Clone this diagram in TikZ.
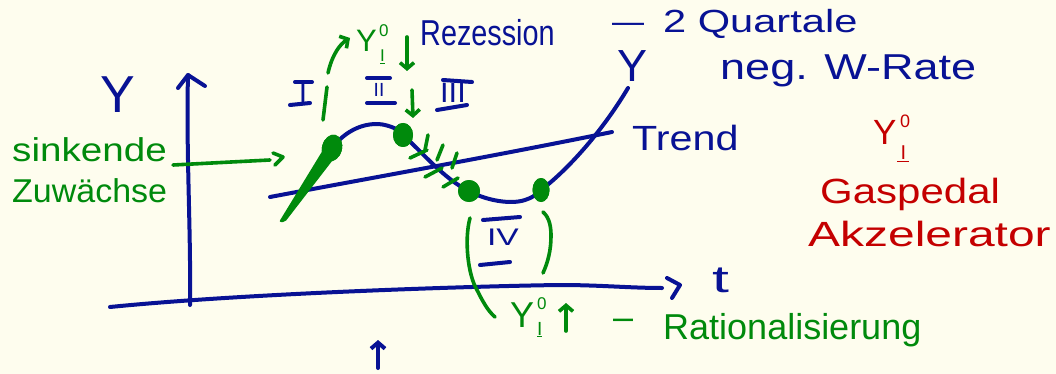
\documentclass[tikz,border=0pt]{standalone}
\usepackage{fontspec}
\usepackage{graphicx}
\setmainfont{Liberation Sans}
\usetikzlibrary{arrows.meta,shapes.geometric}
\definecolor{bg}{RGB}{254,253,238}
\definecolor{ink}{RGB}{8,18,148}
\definecolor{grn}{RGB}{0,138,12}
\definecolor{rd}{RGB}{196,0,0}
\newcommand\fsz[1]{\fontsize{#1}{#1}\selectfont}
\newcommand\hx[2]{\scalebox{#1}[1]{#2}}
\begin{document}
\begin{tikzpicture}[x=1pt,y=-1pt,line cap=round,line join=round,
  bl/.style={draw=ink,line width=4pt},
  gl/.style={draw=grn,line width=3.6pt},
  barb/.style={-{Straight Barb[length=6pt,width=14pt,line width=3.6pt]}},
  hand/.style={inner sep=0pt,anchor=base west},
  num/.style={inner sep=0pt,anchor=base,text=ink},
  gdot/.style={ellipse,fill=grn,inner sep=0pt}]
\fill[bg] (0,0) rectangle (1056,374);
\useasboundingbox (0,0) rectangle (1056,374);

% axes
\coordinate (ax0) at (190,305);
\coordinate (ay1) at (188,75);
\draw[bl] (ax0) .. controls (191,230) and (186,150) .. (ay1);
\draw[bl] (178,88) -- (ay1) -- (205,86);
\coordinate (hx0) at (110,307);
\coordinate (hx1) at (662,288);
\draw[bl] (hx0) .. controls (250,293) and (480,286) .. (560,285) .. controls (600,285) and (630,288) .. (hx1);
\draw[bl] (667,278) -- (680,285) -- (672,298);

\node[hand,text=ink] (ylab) at (100,113) {\fsz{52}Y};
\node[hand,text=ink] (tlab) at (712,292) {\fsz{38}\hx{1.6}{t}};

% trend
\coordinate (tr0) at (270,197);
\coordinate (tr1) at (612,132);
\draw[bl] (tr0) .. controls (360,180) and (500,155) .. (tr1);
\node[hand,text=ink] (trend) at (632,150) {\fsz{35}\hx{1.18}{Trend}};

% green tapered line
\fill[grn,rounded corners=2pt] (279,222) -- (285,222) -- (339,152) -- (326,145) -- cycle;

% dots
\node[gdot,minimum width=20pt,minimum height=27pt,rotate=-15] (d1) at (332,148) {};
\node[gdot,minimum width=20pt,minimum height=24pt] (d2) at (403,135) {};
\node[gdot,minimum width=22pt,minimum height=22pt] (d3) at (469,191) {};
\node[gdot,minimum width=17pt,minimum height=24pt] (d4) at (541,190) {};

% curve Y
\coordinate (yend) at (628,88);
\draw[bl] (d1.center) .. controls (350,125) and (372,122) .. (385,125)
  .. controls (393,127) and (400,130) .. (d2.center)
  .. controls (420,150) and (445,180) .. (d3.center)
  .. controls (485,200) and (510,205) .. (525,200)
  .. controls (533,197) .. (d4.center)
  .. controls (565,172) and (600,135) .. (yend);
\node[gdot,minimum width=20pt,minimum height=27pt,rotate=-15] at (d1) {};
\node[gdot,minimum width=20pt,minimum height=24pt] at (d2) {};
\node[gdot,minimum width=22pt,minimum height=22pt] at (d3) {};
\node[gdot,minimum width=17pt,minimum height=24pt] at (d4) {};

% ticks
\draw[gl] (428,135) -- (425,150);
\draw[gl] (410,158) -- (427,150);
\draw[gl] (443,145) -- (437,160);
\draw[gl] (425,177) -- (442,168);
\draw[gl] (457,153) -- (452,168);
\draw[gl] (443,187) -- (458,178);

\node[hand,text=ink] (ybar) at (612,33) {\fsz{32}—};
\node[hand,text=ink] (ylab2) at (617,82) {\fsz{45}Y};
\node[hand,text=ink] (quart) at (663,33) {\fsz{32}\hx{1.3}{2 Quartale}};
\node[hand,text=ink] (wrate) at (720,80) {\fsz{36}\hx{1.25}{neg. W-Rate}};
\node[hand,text=ink] (rez) at (420,46) {\fsz{36}\hx{0.8}{Rezession}};

% sinkende Zuwaechse
\node[hand,text=grn] (sink) at (12,161) {\fsz{33}\hx{1.17}{sinkende}};
\node[hand,text=grn] (zuw) at (12,202) {\fsz{33}\hx{1.03}{Zuwächse}};
\coordinate (sa0) at (173,165);
\coordinate (sa1) at (270,160);
\draw[gl] (sa0) -- (sa1);
\draw[gl] (273,153) -- (283,157) -- (275,165);

% roman numerals
\node[num] (n1) at (303,103) {\fsz{30}I};
\draw[bl] (295,82) -- (312,82);
\draw[bl] (290,105) -- (310,103);
\node[num] (n2) at (379,97) {\fsz{19}II};
\draw[bl] (367,78) -- (390,78);
\draw[bl] (367,103) -- (395,103);
\node[num] (n3) at (453,103) {\fsz{28}\hx{1.1}{III}};
\draw[bl] (443,80) -- (472,82);
\draw[bl] (437,110) -- (467,105);
\node[num] (n4) at (503,245) {\fsz{24}\hx{1.4}{IV}};
\draw[bl] (483,220) -- (520,217);
\draw[bl] (480,265) -- (510,262);

% green arrows top
\coordinate (g1a) at (323,120);
\coordinate (g1b) at (327,87);
\draw[gl] (g1a) -- (g1b);
\coordinate (g2a) at (328,73);
\coordinate (g2b) at (350,38);
\draw[gl,barb] (g2a) .. controls (332,55) and (340,44) .. (g2b);
\node[hand,text=grn] (yz1) at (356,52) {\fsz{31}Y};
\node[hand,text=grn] (yz1s) at (379,37) {\fsz{17}0};
\node[hand,text=grn] (yz1i) at (380,62) {\fsz{17}\underline{I}};
\coordinate (g3a) at (407,37);
\coordinate (g3b) at (407,71);
\draw[gl,barb] (g3a) -- (g3b);
\coordinate (g4a) at (412,90);
\coordinate (g4b) at (413,118);
\draw[gl,barb] (g4a) -- (g4b);

% brackets
\draw[gl] (470,218) .. controls (464,240) and (468,275) .. (477,290) .. controls (483,302) and (488,311) .. (495,317);
\draw[gl] (543,212) .. controls (550,218) and (551,228) .. (551,236) .. controls (551,250) and (548,262) .. (543,273);

% bottom green
\node[hand,text=grn] (yz2) at (510,327) {\fsz{36}Y};
\node[hand,text=grn] (yz2s) at (537,309) {\fsz{17}0};
\node[hand,text=grn] (yz2i) at (537,335) {\fsz{19}\underline{I}};
\coordinate (g5a) at (566,331);
\coordinate (g5b) at (566,303);
\draw[gl,barb] (g5a) -- (g5b);
\node[hand,text=grn] (dash2) at (613,329) {\fsz{36}–};
\node[hand,text=grn] (ratio) at (663,339) {\fsz{36}Rationalisierung};

% bottom blue arrow
\coordinate (b1a) at (378,368);
\coordinate (b1b) at (378,340);
\draw[bl,-{Straight Barb[length=6pt,width=14pt,line width=4pt]}] (b1a) -- (b1b);

% red
\node[hand,text=rd] (yz3) at (873,145) {\fsz{35}Y};
\node[hand,text=rd] (yz3s) at (900,128) {\fsz{18}0};
\node[hand,text=rd] (yz3i) at (897,160) {\fsz{20}\underline{\,I\,}};
\node[hand,text=rd] (gas) at (820,203) {\fsz{35}\hx{1.2}{Gaspedal}};
\node[hand,text=rd] (akz) at (808,246) {\fsz{35}\hx{1.37}{Akzelerator}};
\end{tikzpicture}
\end{document}
